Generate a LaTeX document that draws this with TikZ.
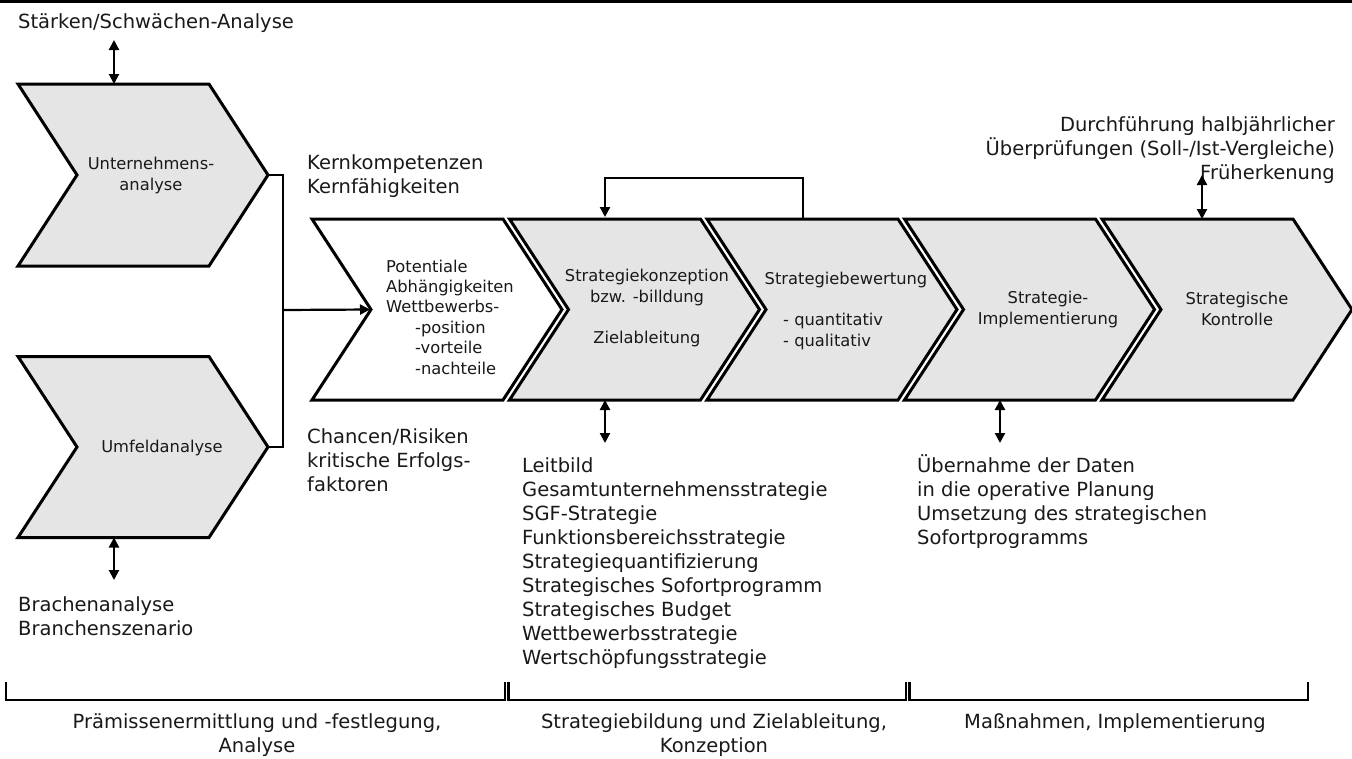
\documentclass[tikz,border=0pt]{standalone}
\usepackage{fontspec}
\setmainfont{DejaVu Sans}
\usetikzlibrary{arrows.meta}

% chevron: name, left x, top y, bottom y, fill colour
\newcommand\chevron[5]{%
  \path[chev, fill=#5] (#2,#3) -- (#2+191,#3) -- (#2+250,{(#3+#4)/2})
    -- (#2+191,#4) -- (#2,#4) -- (#2+59,{(#3+#4)/2}) -- cycle;
  \coordinate (#1-tip) at (#2+250,{(#3+#4)/2});
  \coordinate (#1-notch) at (#2+59,{(#3+#4)/2});
}

\begin{document}
% multi-line labels are placed by the baseline of their last line
\begin{tikzpicture}[x=1pt,y=-1pt,
  chev/.style={draw=black, line width=3pt, line join=miter},
  conn/.style={line width=2.2pt},
  onehead/.style={-{Triangle[length=10pt,width=10pt]}},
  twohead/.style={{Triangle[length=10pt,width=10pt]}-{Triangle[length=10pt,width=10pt]}},
  big/.style={font=\fontsize{19.5}{24}\selectfont, inner sep=0pt, text=black!90},
  small/.style={font=\fontsize{16.3}{20.4}\selectfont, inner sep=0pt, text=black!90},
  brace/.style={line width=2.5pt}
]
\useasboundingbox (0,0) rectangle (1352,758);
\fill[white] (0,0) rectangle (1352,758);
\fill[black] (0,0) rectangle (1352,3);

% process chevrons
\chevron{ua}{18}{84}{266}{black!10}
\chevron{uf}{18}{356.5}{537.5}{black!10}
\chevron{pot}{312}{219}{400}{white}
\chevron{sk}{509.5}{219}{400}{black!10}
\chevron{sb}{707}{219}{400}{black!10}
\chevron{si}{904.5}{219}{400}{black!10}
\chevron{ko}{1102}{219}{400}{black!10}

% chevron labels
\node[small, align=center, anchor=base] (ua-t) at (151,190) {Unternehmens-\\analyse};
\node[small, anchor=base] (uf-t) at (162,452) {Umfeldanalyse};
\node[small, align=left, anchor=base west] (pot-t) at (386,374)
  {Potentiale\\Abhängigkeiten\\Wettbewerbs-\\\hspace*{29pt}-position\\\hspace*{29pt}-vorteile\\\hspace*{29pt}-nachteile};
\node[small, align=center, anchor=base] (sk-t) at (647,343)
  {Strategiekonzeption\\bzw. -billdung\\[20.4pt]Zielableitung};
\node[small, anchor=base] (sb-t) at (846,284) {Strategiebewertung};
\node[small, align=left, anchor=base west] (sb-q) at (783,346) {- quantitativ\\- qualitativ};
\node[small, align=center, anchor=base] (si-t) at (1048,324) {Strategie-\\Implementierung};
\node[small, align=center, anchor=base] (ko-t) at (1237,325) {Strategische\\Kontrolle};

% surrounding texts
\node[big, anchor=base west] (sa) at (18,28) {Stärken/Schwächen-Analyse};
\node[big, align=left, anchor=base west] (kern) at (307,193) {Kernkompetenzen\\Kernfähigkeiten};
\node[big, align=left, anchor=base west] (chr) at (307,491) {Chancen/Risiken\\kritische Erfolgs-\\faktoren};
\node[big, align=left, anchor=base west] (br) at (18,635) {Brachenanalyse\\Branchenszenario};
\node[big, align=left, anchor=base west] (lb) at (522,664)
  {Leitbild\\Gesamtunternehmensstrategie\\SGF-Strategie\\Funktionsbereichsstrategie\\Strategiequantifizierung\\Strategisches Sofortprogramm\\Strategisches Budget\\Wettbewerbsstrategie\\Wertschöpfungsstrategie};
\node[big, align=left, anchor=base west] (ub) at (917,544)
  {Übernahme der Daten\\in die operative Planung\\Umsetzung des strategischen\\Sofortprogramms};
\node[big, align=right, anchor=base east] (df) at (1335,179)
  {Durchführung halbjährlicher\\Überprüfungen (Soll-/Ist-Vergleiche)\\Früherkenung};

% phase labels
\node[big, align=center, anchor=base] (ph1) at (257,752) {Prämissenermittlung und -festlegung,\\Analyse};
\node[big, align=center, anchor=base] (ph2) at (714,752) {Strategiebildung und Zielableitung,\\Konzeption};
\node[big, anchor=base] (ph3) at (1115,728) {Maßnahmen, Implementierung};

% connector end points on the chevron borders
\coordinate (ua-n) at (114,84);
\coordinate (sa-s) at (114,40);
\coordinate (uf-s) at (114,537.5);
\coordinate (br-n) at (114,580);
\coordinate (jn) at (283,310);
\coordinate (sk-n) at (605,218);
\coordinate (sb-n) at (803,219);
\coordinate (sk-s) at (605,400);
\coordinate (lb-n) at (605,443);
\coordinate (si-s) at (1000,400);
\coordinate (ub-n) at (1000,443);
\coordinate (ko-n) at (1202,219);
\coordinate (df-s) at (1202,175);

% connectors
\draw[conn, twohead] (sa-s) -- (ua-n);
\draw[conn, twohead] (uf-s) -- (br-n);
\draw[conn] (ua-tip) -| (jn) |- (uf-tip);
\draw[conn, onehead, shorten >=1pt] (jn) -- (pot-notch);
\draw[conn, onehead, shorten >=1pt] (sb-n) -- ++(0,-41) -| (sk-n);
\draw[conn, twohead] (sk-s) -- (lb-n);
\draw[conn, twohead] (si-s) -- (ub-n);
\draw[conn, twohead] (df-s) -- (ko-n);

% phase brackets
\draw[brace] (6,682) |- (505,700) -- (505,682);
\draw[brace] (508.5,682) |- (906,700) -- (906,682);
\draw[brace] (909.5,682) |- (1308,700) -- (1308,682);
\end{tikzpicture}
\end{document}
